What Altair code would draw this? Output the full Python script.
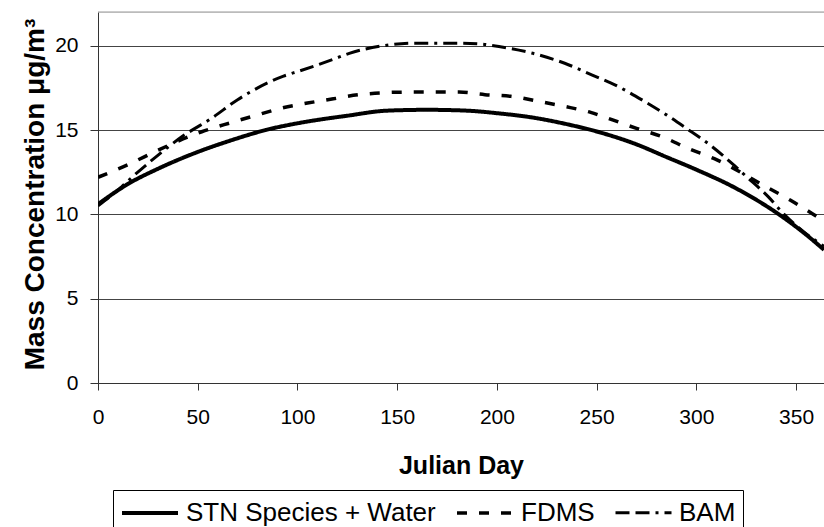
import altair as alt
import pandas as pd

# ---- data ----
SERIES = ["STN Species + Water", "FDMS", "BAM"]

STN_DAY = [0, 15, 30, 50, 67, 84, 100, 125, 145, 165, 185, 200, 218, 235, 252, 270, 285, 300, 319, 342, 355, 364]
STN_VAL = [10.6, 11.8, 12.7, 13.7, 14.4, 15.0, 15.4, 15.85, 16.15, 16.2, 16.15, 16.0, 15.74, 15.35, 14.85, 14.15, 13.4, 12.65, 11.6, 9.95, 8.8, 7.9]

FDMS_DAY = [0, 16, 30, 52, 67, 80, 92, 105, 118, 131, 155, 181, 194, 207, 221, 234, 247, 258, 270, 283, 296, 309, 334, 347, 360, 364]
FDMS_VAL = [12.2, 13.0, 13.8, 14.9, 15.45, 15.9, 16.3, 16.6, 16.85, 17.1, 17.25, 17.25, 17.1, 17.0, 16.7, 16.4, 16.05, 15.6, 15.1, 14.6, 13.9, 13.3, 11.7, 10.85, 9.9, 9.6]

BAM_DAY = [0, 12, 18, 30, 42, 57, 70, 77, 93, 101, 118, 126, 143, 160, 180, 192, 201, 218, 234, 249, 257, 274, 285, 295, 307, 319, 325, 336, 344, 354, 364]
BAM_VAL = [10.5, 11.65, 12.3, 13.5, 14.6, 15.7, 16.8, 17.3, 18.2, 18.5, 19.2, 19.55, 20.0, 20.15, 20.15, 20.1, 19.95, 19.55, 18.96, 18.2, 17.8, 16.7, 15.9, 15.1, 14.1, 12.9, 12.25, 11.05, 10.0, 8.95, 8.1]

X_TICKS = [0, 50, 100, 150, 200, 250, 300, 350]
Y_TICKS = [0, 5, 10, 15, 20]
X_MAX = 364
Y_MAX = 22

rows = []
for name, days, vals in [(SERIES[0], STN_DAY, STN_VAL),
                         (SERIES[1], FDMS_DAY, FDMS_VAL),
                         (SERIES[2], BAM_DAY, BAM_VAL)]:
    for d, v in zip(days, vals):
        rows.append({"series": name, "day": d, "value": v})
df = pd.DataFrame(rows)

FONT = "Liberation Sans"

x_enc = alt.X(
    "day:Q",
    scale=alt.Scale(domain=[0, X_MAX], nice=False, zero=False),
    axis=alt.Axis(
        values=X_TICKS, title="Julian Day", grid=False,
        labelFlush=False, tickSize=7, labelPadding=16,
        labelFontSize=21, labelFont=FONT, labelColor="black",
        titleFont=FONT, titleFontSize=25, titleFontWeight="bold", titleColor="black",
        titleBaseline="alphabetic", titleY=90,
        domainColor="#333", tickColor="#333",
    ),
)
y_enc = alt.Y(
    "value:Q",
    scale=alt.Scale(domain=[0, Y_MAX], nice=False),
    axis=alt.Axis(
        values=Y_TICKS, title="Mass Concentration μg/m³", grid=True,
        gridColor="#444", gridWidth=1,
        tickSize=8, labelPadding=12,
        labelFontSize=21, labelFont=FONT, labelColor="black",
        titleFont=FONT, titleFontSize=28, titleFontWeight="bold", titleColor="black",
        titleBaseline="alphabetic", titleX=-55, titleY=182, titleAlign="center",
        domainColor="#333", tickColor="#333",
    ),
)

lines = alt.Chart(df).mark_line(color="black", clip=True, interpolate="monotone").encode(
    x=x_enc,
    y=y_enc,
    strokeDash=alt.StrokeDash(
        "series:N",
        scale=alt.Scale(domain=SERIES, range=[[1, 0], [10, 12], [14, 6, 14, 6, 3, 6]]),
        legend=alt.Legend(
            title=None, orient="none", legendX=15, legendY=478,
            direction="horizontal",
            symbolType="M-1,0H3", symbolSize=784,
            symbolStrokeWidth=3, symbolStrokeColor="black",
            labelFont=FONT, labelFontSize=26, labelColor="black", labelLimit=500,
            labelOffset=34, columnPadding=14, padding=7,
            strokeColor="black", fillColor="white",
        ),
    ),
    strokeWidth=alt.StrokeWidth(
        "series:N", scale=alt.Scale(domain=SERIES, range=[4, 3, 3]), legend=None
    ),
)

top = alt.Chart(pd.DataFrame({"value": [Y_MAX]})).mark_rule(color="#999", strokeWidth=1).encode(
    y=alt.Y("value:Q")
)

chart = alt.layer(top, lines).properties(
    width=726, height=371,
    autosize=alt.AutoSizeParams(type="none"),
    padding={"left": 98, "top": 12, "right": 0, "bottom": 144},
).configure_view(stroke=None).configure(background="white")

chart.save("out.html", embed_options={"renderer": "svg", "actions": False})
